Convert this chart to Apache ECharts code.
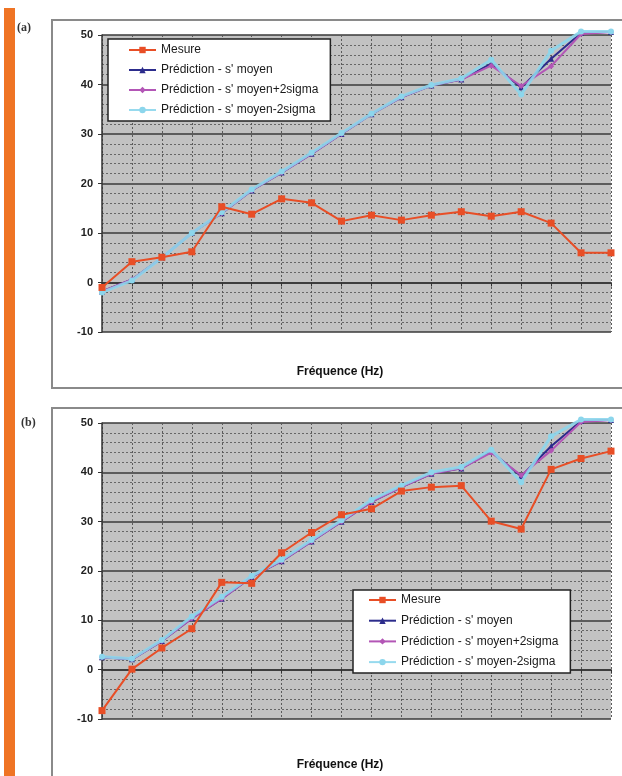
<!DOCTYPE html>
<html>
<head>
<meta charset="utf-8">
<script src="https://cdn.jsdelivr.net/npm/echarts@6/dist/echarts.min.js"></script>
<style>
  html, body { margin: 0; padding: 0; background: #fff; }
  #chart { width: 622px; height: 776px; }
</style>
</head>
<body>
<div id="chart"></div>
<script>
// 18 frequency points, no labels on the original axis
var categories = ['f1', 'f2', 'f3', 'f4', 'f5', 'f6', 'f7', 'f8', 'f9', 'f10', 'f11', 'f12', 'f13', 'f14', 'f15', 'f16', 'f17', 'f18']
var yTicks = [-10, 0, 10, 20, 30, 40, 50]
var seriesNames = ['Mesure', 'Prédiction - s\' moyen', 'Prédiction - s\' moyen+2sigma', 'Prédiction - s\' moyen-2sigma']

// (a)
var mesureA = [-1, 4.2, 5.1, 6.2, 15.3, 13.8, 16.9, 16.1, 12.4, 13.6, 12.6, 13.6, 14.3, 13.4, 14.3, 12, 6, 6]
var moyenA = [-1.8, 0.6, 5, 10, 14, 18.6, 22.2, 26, 30, 34, 37.4, 39.8, 41, 44.2, 39.4, 45.2, 50.4, 50.6]
var plusA = [-1.8, 0.6, 5, 10, 14, 18.6, 22.2, 26, 30, 34, 37.4, 39.8, 41, 43.8, 39.7, 43.7, 50.2, 50.6]
var minusA = [-2, 0.4, 5, 10, 14.2, 18.8, 22.4, 26.2, 30.2, 34.1, 37.6, 39.9, 41.2, 45, 38, 46.8, 50.7, 50.7]

// (b)
var mesureB = [-8.3, 0.1, 4.4, 8.3, 17.7, 17.5, 23.7, 27.8, 31.4, 32.6, 36.2, 37, 37.3, 30.1, 28.5, 40.6, 42.8, 44.3]
var moyenB = [2.5, 2.1, 5.8, 10.4, 14.4, 18.8, 22, 26, 30, 34, 37, 39.7, 40.8, 44.2, 39.2, 45.3, 50.4, 50.6]
var plusB = [2.5, 2.1, 5.8, 10.4, 14.4, 18.8, 22, 26, 30, 34, 37, 39.7, 40.8, 44, 39.4, 44.4, 50.2, 50.6]
var minusB = [2.6, 2.2, 6, 10.8, 14.8, 19, 22.3, 26.3, 30.3, 34.4, 37.3, 40, 41.1, 44.6, 38, 47.3, 50.7, 50.7]

var colors = ['#e84e26', '#2c2c8c', '#b356b6', '#8cd6ec']
var symbols = ['rect', 'triangle', 'diamond', 'circle']

function xAxisFor(idx) {
  return {
    type: 'category',
    gridIndex: idx,
    data: categories,
    boundaryGap: false,
    axisLine: { lineStyle: { color: '#333', width: 1.5 } },
    axisTick: { show: true, length: 4, lineStyle: { color: '#333' } },
    axisLabel: { show: false },
    splitLine: { show: true, lineStyle: { color: '#5a5a5a', type: [2, 2], width: 1 } }
  }
}

function yAxisFor(idx) {
  return {
    type: 'value',
    gridIndex: idx,
    min: yTicks[0],
    max: yTicks[yTicks.length - 1],
    interval: 10,
    axisLine: { show: true, lineStyle: { color: '#333', width: 1.5 } },
    axisTick: { show: true, length: 4, lineStyle: { color: '#333' } },
    axisLabel: {
      margin: 9,
      color: '#222',
      fontSize: 11,
      fontWeight: 'bold',
      fontFamily: 'Liberation Sans, Arial, sans-serif',
      formatter: function(v) {
        return yTicks.indexOf(v) >= 0 ? String(v) : ''
      }
    },
    splitLine: { show: true, lineStyle: { color: '#3a3a3a', width: 1.6 } },
    minorTick: { show: false, splitNumber: 5 },
    minorSplitLine: { show: true, lineStyle: { color: '#666', type: [2, 2], width: 1 } }
  }
}

function lines(idx, data) {
  var out = []
  for (var i = 0; i < data.length; i++) {
    out.push({
      name: seriesNames[i],
      type: 'line',
      xAxisIndex: idx,
      yAxisIndex: idx,
      data: data[i],
      clip: false,
      symbol: symbols[i],
      symbolSize: i === 0 ? 7 : 6,
      color: colors[i],
      lineStyle: { color: colors[i], width: i === 3 ? 3 : 2, opacity: i === 3 ? 0.9 : 1 },
      itemStyle: { color: colors[i] },
      z: i === 0 ? 6 : 3 + i * 0.1,
      animation: false
    })
  }
  return out
}

function legendAt(idx, left, top, gap, pad) {
  return {
    show: true,
    orient: 'vertical',
    left: left,
    top: top,
    data: seriesNames,
    itemWidth: 27,
    itemHeight: 8,
    itemGap: gap,
    padding: pad,
    backgroundColor: '#fff',
    borderColor: '#222',
    borderWidth: 1.5,
    borderRadius: 0,
    textStyle: { color: '#1a1a1a', fontSize: 12, lineHeight: 14, fontFamily: 'Liberation Sans, Arial, sans-serif' },
    selectedMode: false
  }
}

var chart = echarts.init(document.getElementById('chart'))
chart.setOption({
  backgroundColor: '#fff',
  animation: false,
  graphic: [
    { type: 'rect', shape: { x: 4, y: 8, width: 11, height: 780 }, style: { fill: '#ef7424' }, z: 0 },
    { type: 'rect', shape: { x: 52, y: 20, width: 600, height: 368 }, style: { fill: '#fff', stroke: '#8a8a8a', lineWidth: 2 }, z: -1 },
    { type: 'rect', shape: { x: 52, y: 408, width: 600, height: 400 }, style: { fill: '#fff', stroke: '#8a8a8a', lineWidth: 2 }, z: -1 },
    { type: 'text', left: 17, top: 22, style: { text: '(a)', fill: '#333', font: 'bold 12px "Liberation Serif", serif' }, z: 1 },
    { type: 'text', left: 21, top: 417, style: { text: '(b)', fill: '#333', font: 'bold 12px "Liberation Serif", serif' }, z: 1 },
    { type: 'text', x: 340, y: 372, style: { text: 'Fréquence (Hz)', fill: '#111', font: 'bold 12px "Liberation Sans", Arial, sans-serif', align: 'center', verticalAlign: 'middle' }, z: 1 },
    { type: 'text', x: 340, y: 765, style: { text: 'Fréquence (Hz)', fill: '#111', font: 'bold 12px "Liberation Sans", Arial, sans-serif', align: 'center', verticalAlign: 'middle' }, z: 1 }
  ],
  legend: [
    legendAt(0, 108, 39, 6, [4, 12, 4, 20]),
    legendAt(1, 353, 590, 6.7, [3, 12, 4, 15])
  ],
  grid: [
    { left: 102, top: 35, width: 509, height: 297, show: true, backgroundColor: '#c2c2c2', borderWidth: 0 },
    { left: 102, top: 423, width: 509, height: 296, show: true, backgroundColor: '#c2c2c2', borderWidth: 0 }
  ],
  xAxis: [xAxisFor(0), xAxisFor(1)],
  yAxis: [yAxisFor(0), yAxisFor(1)],
  series: lines(0, [mesureA, moyenA, plusA, minusA]).concat(lines(1, [mesureB, moyenB, plusB, minusB]))
})
</script>
</body>
</html>
